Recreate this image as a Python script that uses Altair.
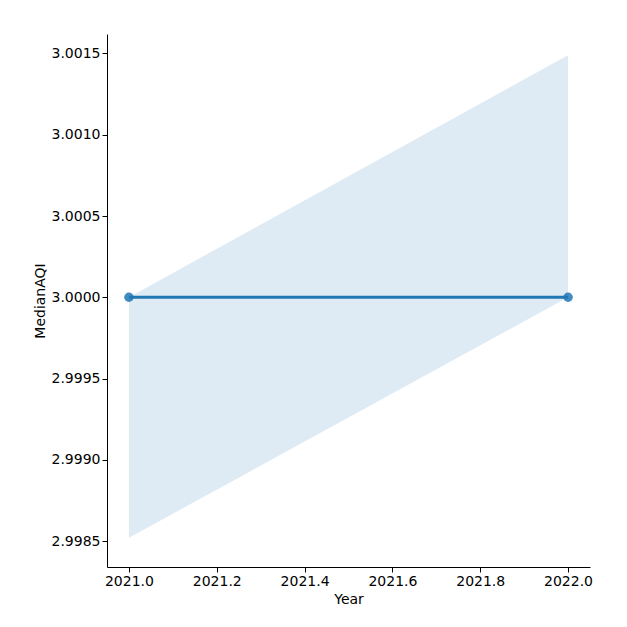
import altair as alt
import pandas as pd

years = [2021.0, 2022.0]
median_aqi = [3.0, 3.0]
ci_low = [2.99852, 3.0]
ci_high = [3.0, 3.00149]

df = pd.DataFrame({"Year": years, "MedianAQI": median_aqi, "lo": ci_low, "hi": ci_high})

x_scale = alt.Scale(domain=[2020.95, 2022.05], nice=False, zero=False)
y_scale = alt.Scale(domain=[2.99834, 3.00162], nice=False, zero=False)
x_ticks = [2021.0, 2021.2, 2021.4, 2021.6, 2021.8, 2022.0]
y_ticks = [2.9985, 2.999, 2.9995, 3.0, 3.0005, 3.001, 3.0015]

x_ax = alt.Axis(values=x_ticks, format=".1f", grid=False, title="Year")
y_ax = alt.Axis(values=y_ticks, format=".4f", grid=False, title="MedianAQI")

base = alt.Chart(df)

band = base.mark_area(color="#1f77b4", opacity=0.15).encode(
    x=alt.X("Year:Q", scale=x_scale, axis=x_ax),
    y=alt.Y("lo:Q", scale=y_scale, axis=y_ax),
    y2="hi:Q",
)
line = base.mark_line(color="#1f77b4", strokeWidth=3).encode(
    x=alt.X("Year:Q", scale=x_scale), y=alt.Y("MedianAQI:Q", scale=y_scale)
)
pts = base.mark_circle(color="#1f77b4", size=90, opacity=0.85).encode(
    x=alt.X("Year:Q", scale=x_scale), y=alt.Y("MedianAQI:Q", scale=y_scale)
)

chart = (band + line + pts).properties(
    width=483, height=533, autosize="none",
    padding={"left": 99, "top": 26, "right": 29, "bottom": 52},
).configure_view(stroke=None).configure_axis(
    labelFont="DejaVu Sans", titleFont="DejaVu Sans", labelFontSize=14,
    titleFontSize=14, titleFontWeight="normal", labelColor="black",
    titleColor="black", domainColor="black", tickColor="black", tickSize=5,
)

chart.save("out.html", embed_options={"renderer": "svg", "actions": False})
